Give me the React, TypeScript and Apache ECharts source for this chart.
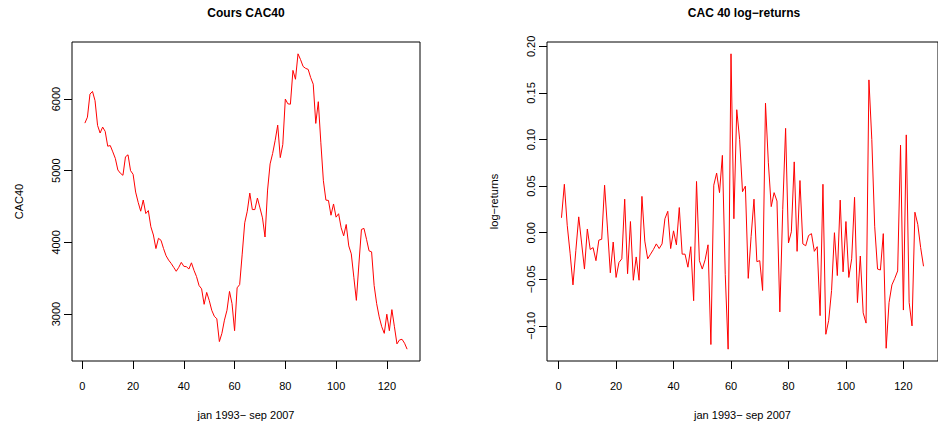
import React, { useEffect, useRef } from "react";
import * as echarts from "echarts";

// CAC40 index values (points 1..128)
const cac40: number[] = [
  5664, 5747, 6069, 6106, 5977, 5632, 5526, 5609, 5549, 5342,
  5351, 5263, 5171, 5010, 4964, 4936, 5194, 5222, 5001, 4950,
  4702, 4559, 4435, 4591, 4402, 4444, 4218, 4103, 3914, 4057,
  4029, 3914, 3813, 3753, 3707, 3652, 3597, 3652, 3721, 3666,
  3661, 3629, 3715, 3610, 3523, 3398, 3352, 3136, 3302, 3191,
  3053, 2970, 2934, 2616, 2731, 2915, 3053, 3316, 3145, 2768,
  3366, 3412, 3836, 4273, 4435, 4688, 4458, 4458, 4619, 4481,
  4342, 4075, 4730, 5095, 5240, 5424, 5636, 5183, 5365, 6000,
  5933, 5928, 6400, 6276, 6631, 6550, 6455, 6428, 6414, 6299,
  6207, 5660, 5963, 5390, 4860, 4590, 4585, 4379, 4536, 4352,
  4400, 4204, 4092, 4250, 3951, 3840, 3514, 3191, 3698, 4181,
  4195, 4043, 3882, 3868, 3399, 3145, 2961, 2823, 2731, 2998,
  2768, 3062, 2823, 2584, 2639, 2648, 2593, 2510,
];

// CAC40 log-returns (points 1..127)
const logReturns: number[] = [
  0.016, 0.052, 0.008, -0.022, -0.056, -0.019, 0.017, -0.011, -0.039, 0.004,
  -0.018, -0.016, -0.030, -0.008, -0.007, 0.051, 0.005, -0.043, -0.010, -0.048,
  -0.032, -0.028, 0.036, -0.044, 0.012, -0.051, -0.026, -0.051, 0.039, -0.009,
  -0.028, -0.023, -0.018, -0.012, -0.017, -0.012, 0.015, 0.023, -0.017, 0.002,
  -0.013, 0.027, -0.023, -0.023, -0.037, -0.015, -0.073, 0.055, -0.030, -0.039,
  -0.029, -0.013, -0.120, 0.051, 0.064, 0.043, 0.083, -0.045, -0.125, 0.192,
  0.015, 0.132, 0.100, 0.044, 0.050, -0.049, -0.004, 0.036, -0.031, -0.030,
  -0.062, 0.139, 0.075, 0.028, 0.043, 0.034, -0.085, 0.025, 0.112, -0.011,
  0.001, 0.076, -0.020, 0.056, -0.012, -0.014, -0.003, -0.001, -0.020, -0.015,
  -0.089, 0.052, -0.109, -0.094, -0.062, 0.000, -0.046, 0.035, -0.042, 0.012,
  -0.048, -0.028, 0.038, -0.075, -0.025, -0.086, -0.097, 0.164, 0.100, 0.007,
  -0.039, -0.040, -0.001, -0.124, -0.075, -0.056, -0.049, -0.041, 0.094, -0.083,
  0.105, -0.075, -0.100, 0.022, 0.009, -0.016, -0.036,
];

const xTicks = [0, 20, 40, 60, 80, 100, 120];
const cacTicks = [3000, 4000, 5000, 6000];
const retTicks = [-0.1, -0.05, 0, 0.05, 0.1, 0.15, 0.2];

const FONT = "'Liberation Sans', Arial, Helvetica, sans-serif";
const MINUS = "\u2212";

// R-style axis range: data range extended by 4% on each side
function rRange(lo: number, hi: number): [number, number] {
  const d = (hi - lo) * 0.04;
  return [lo - d, hi + d];
}

export default function App() {
  const ref = useRef<HTMLDivElement>(null);

  useEffect(() => {
    if (!ref.current) return;
    const chart = echarts.init(ref.current, undefined, { renderer: "svg" });

    const cacData = cac40.map((v, i) => [i + 1, v]);
    const retData = logReturns.map((v, i) => [i + 1, v]);

    const [x1min, x1max] = rRange(1, cac40.length);
    const [y1min, y1max] = rRange(Math.min(...cac40), Math.max(...cac40));
    const [x2min, x2max] = rRange(1, logReturns.length);
    const [y2min, y2max] = rRange(Math.min(...logReturns), Math.max(...logReturns));

    const labelStyle = { color: "#000", fontSize: 11, fontFamily: FONT };
    const tickStyle = { show: true, inside: false, length: 8, lineStyle: { color: "#000", width: 1 } };

    const xAxisBase = (min: number, max: number, gridIndex: number) => ({
      type: "value",
      gridIndex,
      min,
      max,
      axisLine: { show: false, onZero: false },
      splitLine: { show: false },
      axisTick: { ...tickStyle, customValues: xTicks },
      axisLabel: { ...labelStyle, margin: 19, customValues: xTicks, formatter: (v: number) => String(v) },
      name: "jan 1993" + MINUS + " sep 2007",
      nameLocation: "middle",
      nameGap: 48,
      nameTextStyle: { ...labelStyle },
    });

    const option: any = {
      animation: false,
      backgroundColor: "#fff",
      grid: [
        { left: 72, top: 42, width: 348, height: 322, show: true, borderColor: "#000", borderWidth: 1, backgroundColor: "transparent" },
        { left: 547, top: 42, width: 395, height: 322, show: true, borderColor: "#000", borderWidth: 1, backgroundColor: "transparent" },
      ],
      xAxis: [xAxisBase(x1min, x1max, 0), xAxisBase(x2min, x2max, 1)],
      yAxis: [
        {
          type: "value",
          gridIndex: 0,
          min: y1min,
          max: y1max,
          axisLine: { show: false, onZero: false },
          splitLine: { show: false },
          axisTick: { ...tickStyle, customValues: cacTicks },
          axisLabel: { ...labelStyle, rotate: 90, margin: 11, customValues: cacTicks, formatter: (v: number) => String(v) },
          name: "CAC40",
          nameLocation: "middle",
          nameGap: 48,
          nameRotate: 90,
          nameTextStyle: { ...labelStyle },
        },
        {
          type: "value",
          gridIndex: 1,
          min: y2min,
          max: y2max,
          axisLine: { show: false, onZero: false },
          splitLine: { show: false },
          axisTick: { ...tickStyle, customValues: retTicks },
          axisLabel: {
            ...labelStyle,
            rotate: 90,
            margin: 11,
            customValues: retTicks,
            formatter: (v: number) => (v < -1e-9 ? MINUS : "") + Math.abs(v).toFixed(2),
          },
          name: "log" + MINUS + "returns",
          nameLocation: "middle",
          nameGap: 48,
          nameRotate: 90,
          nameTextStyle: { ...labelStyle },
        },
      ],
      graphic: [
        {
          type: "text",
          x: 246,
          y: 13,
          style: { text: "Cours CAC40", font: `bold 12px ${FONT}`, fill: "#000", textAlign: "center", textVerticalAlign: "middle" },
        },
        {
          type: "text",
          x: 744,
          y: 13,
          style: { text: "CAC 40 log" + MINUS + "returns", font: `bold 12px ${FONT}`, fill: "#000", textAlign: "center", textVerticalAlign: "middle" },
        },
      ],
      series: [
        {
          type: "line",
          xAxisIndex: 0,
          yAxisIndex: 0,
          data: cacData,
          showSymbol: false,
          lineStyle: { color: "#ff0000", width: 1 },
          silent: true,
        },
        {
          type: "line",
          xAxisIndex: 1,
          yAxisIndex: 1,
          data: retData,
          showSymbol: false,
          lineStyle: { color: "#ff0000", width: 1 },
          silent: true,
        },
      ],
    };

    chart.setOption(option);
    return () => chart.dispose();
  }, []);

  return (
    <div
      ref={ref}
      style={{ position: "fixed", left: 0, top: 0, width: 938, height: 425, background: "#fff" }}
    />
  );
}
